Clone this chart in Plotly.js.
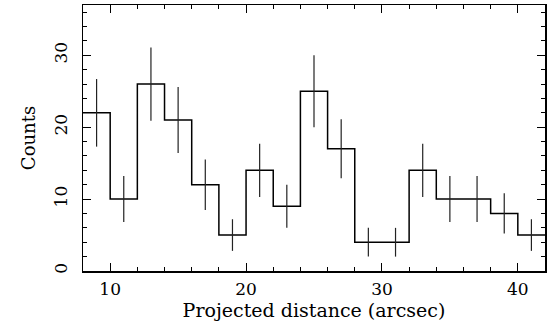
<!DOCTYPE html>
<html>
<head>
<meta charset="utf-8">
<script src="https://cdn.plot.ly/plotly-3.0.1.min.js"></script>
<style>html,body{margin:0;padding:0;background:#fff;}</style>
</head>
<body>
<div id="chart" style="width:549px;height:328px;"></div>
<script>
// Bin centers (arcsec), counts and Poisson errors
var binCenters = [9, 11, 13, 15, 17, 19, 21, 23, 25, 27, 29, 31, 33, 35, 37, 39, 41];
var counts     = [22, 10, 26, 21, 12, 5, 14, 9, 25, 17, 4, 4, 14, 10, 10, 8, 5];
var countErr   = [4.7, 3.2, 5.1, 4.6, 3.5, 2.2, 3.7, 3.0, 5.0, 4.1, 2.0, 2.0, 3.7, 3.2, 3.2, 2.8, 2.2];
var binWidth = 2;

// build step outline from bins
var stepX = [], stepY = [];
for (var i = 0; i < binCenters.length; i++) {
  stepX.push(binCenters[i] - binWidth / 2);
  stepY.push(counts[i]);
}
stepX.push(binCenters[binCenters.length - 1] + binWidth / 2);
stepY.push(counts[counts.length - 1]);

var fontFam = 'DejaVu Serif, serif';

var traces = [
  {
    x: stepX, y: stepY, type: 'scatter', mode: 'lines',
    line: {shape: 'hv', color: '#000', width: 1.5},
    hoverinfo: 'skip'
  },
  {
    x: binCenters, y: counts, type: 'scatter', mode: 'markers',
    marker: {size: 0.1, color: '#000'},
    error_y: {type: 'data', array: countErr, visible: true, width: 0, thickness: 1.2, color: '#222'}
  }
];

var layout = {
  width: 549, height: 328,
  margin: {l: 83, r: 4, t: 5, b: 57},
  showlegend: false,
  paper_bgcolor: '#fff', plot_bgcolor: '#fff',
  font: {family: fontFam, color: '#000', size: 16},
  xaxis: {
    range: [8, 42],
    tickvals: [10, 20, 30, 40],
    ticks: 'inside', ticklen: 8, tickwidth: 1, tickcolor: '#000',
    minor: {dtick: 2, tick0: 0, ticks: 'inside', ticklen: 4, tickcolor: '#000', showgrid: false},
    showline: true, linecolor: '#000', linewidth: 1.5, mirror: 'ticks',
    showgrid: false, zeroline: false,
    ticklabelstandoff: 2,
    tickfont: {family: fontFam, size: 17},
    title: {text: 'Projected distance (arcsec)', font: {family: fontFam, size: 19}, standoff: 0}
  },
  yaxis: {
    range: [0, 37],
    tickvals: [0, 10, 20, 30],
    ticks: 'inside', ticklen: 8, tickwidth: 1, tickcolor: '#000',
    minor: {dtick: 2, tick0: 0, ticks: 'inside', ticklen: 4, tickcolor: '#000', showgrid: false},
    showline: true, linecolor: '#000', linewidth: 1.5, mirror: 'ticks',
    showgrid: false, zeroline: false,
    tickangle: -90,
    ticklabelstandoff: 8,
    tickfont: {family: fontFam, size: 17},
    title: {text: 'Counts', font: {family: fontFam, size: 18}, standoff: 10}
  }
};

Plotly.newPlot('chart', traces, layout, {staticPlot: true, displayModeBar: false});
</script>
</body>
</html>
